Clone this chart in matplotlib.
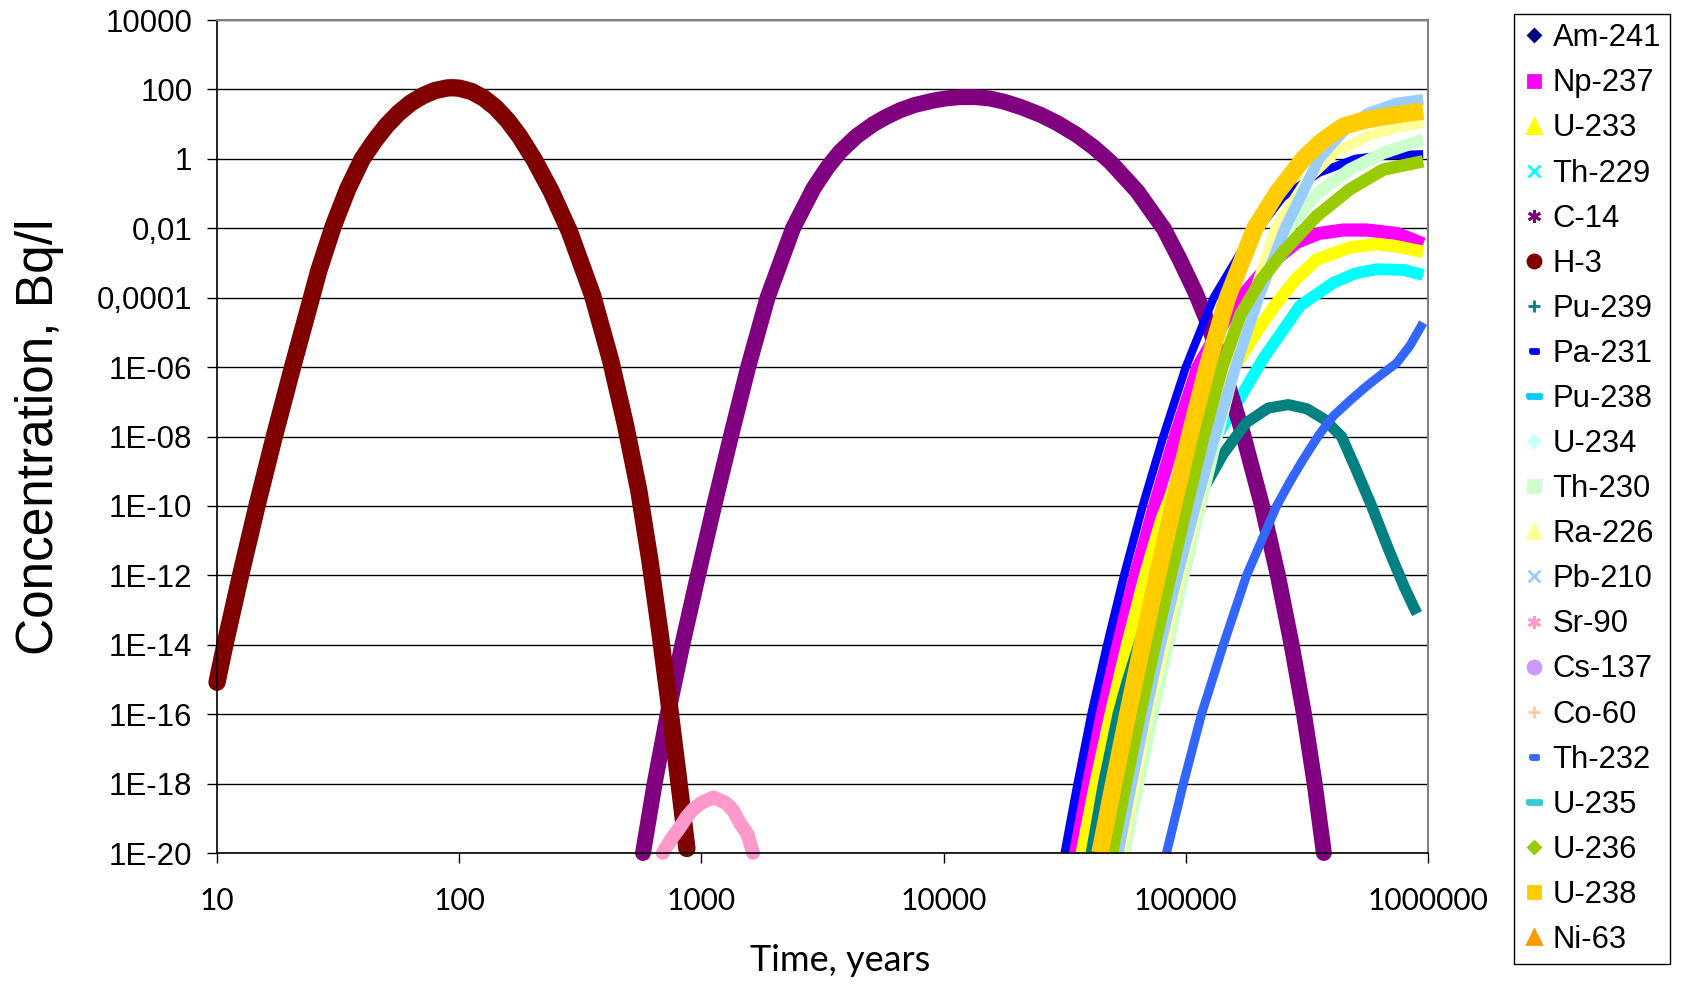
import matplotlib
matplotlib.use('Agg')
import matplotlib.pyplot as plt
from matplotlib.lines import Line2D

plt.rcParams['font.family'] = ['Liberation Sans', 'DejaVu Sans']

# ---- data: time (years), concentration (Bq/l) ----
h3_t = [10, 10.78, 12.51, 14.62, 17.24, 20.51, 24.55, 26.3, 30.2, 34.7, 39.8, 44.7,
        50.1, 56.2, 63.1, 70.8, 79.4, 89.1, 93.3, 100, 112.2, 125.9, 141.3, 158.5,
        177.8, 204.2, 239.9, 285.1, 354.8, 421.7, 485.3, 550.8, 612.4, 673, 736.2,
        803.5, 871]
h3_c = [8.3e-16, 1e-14, 1e-12, 1e-10, 1e-8, 1e-6, 1e-4, 5.9e-4, 0.0115, 0.138, 1, 3.3,
        9.1, 20.9, 40.7, 66, 93, 110, 112, 108.7, 87.7, 57.1, 30.1, 12.8,
        4.38, 0.935, 0.115, 8.1e-3, 1.2e-4, 1.58e-6, 2.24e-8, 2.9e-10, 2.75e-12, 2.45e-14,
        1.95e-16, 1.45e-18, 1.35e-20]

c14_t = [574, 641, 726, 834, 968, 1128, 1323, 1560, 1875, 2389, 2903, 3311, 3733,
         4365, 5129, 5754, 6607, 7586, 9099, 10230, 11720, 13490, 15490, 17780,
         20890, 25120, 29510, 35480, 41690, 48980, 63100, 81280, 94410, 109600, 123000,
         139600, 171800, 205600, 239900, 273500, 307600, 340400, 371500]
c14_c = [1e-20, 1e-18, 1e-16, 1e-14, 1e-12, 1e-10, 1e-8, 1e-6, 1e-4, 1e-2, 0.141, 0.562,
         1.585, 4.47, 10, 15.8, 25.1, 35.5, 47.9, 55, 60, 60, 55, 44.2,
         30.9, 18.6, 10.6, 4.9, 2.14, 0.794, 0.115, 9.5e-3, 1.26e-3, 1.41e-4, 2e-5,
         1.41e-6, 1.26e-8, 1.12e-10, 1e-12, 1e-14, 1e-16, 1e-18, 1e-20]

sr90_t = [692, 759, 817, 871, 923, 1000, 1122, 1259, 1352, 1445, 1549, 1633]
sr90_c = [1e-20, 2.8e-20, 5.6e-20, 1.12e-19, 1.8e-19, 2.8e-19, 4e-19, 2.8e-19,
          1.7e-19, 7.1e-20, 3.5e-20, 1e-20]

pa231_t = [31600, 35730, 40740, 47320, 55590, 66370, 80720, 100000, 130300,
           171800, 251200, 354800, 501200, 653100, 955000]
pa231_c = [1e-20, 1e-18, 1e-16, 1e-14, 1e-12, 1e-10, 1e-8, 1e-6, 1e-4,
           2.5e-3, 0.079, 0.4, 1.0, 1.26, 1.35]

np237_t = [34280, 38900, 44460, 52120, 61940, 74300, 90360, 112200, 154900,
           223900, 288400, 354800, 446700, 557200, 741300, 831800, 955000]
np237_c = [1e-20, 1e-18, 1e-16, 1e-14, 1e-12, 1e-10, 1e-8, 1e-6, 5e-5,
           1e-3, 4e-3, 7.1e-3, 8.9e-3, 8.9e-3, 7.1e-3, 5.2e-3, 3.5e-3]

u233_t = [37200, 42360, 48980, 57280, 67920, 79400, 100000, 125900, 158500,
          195000, 231700, 281800, 346700, 475300, 612400, 741300, 955000]
u233_c = [1e-20, 1e-18, 1e-16, 1e-14, 1e-12, 4e-11, 2.5e-9, 7.9e-8, 1e-6,
          1e-5, 5.6e-5, 3.2e-4, 1.26e-3, 2.8e-3, 3.5e-3, 3e-3, 2.1e-3]

th229_t = [41500, 50100, 63100, 79400, 100000, 125900, 167100, 208900, 295800,
           406400, 501200, 612400, 794300, 955000]
th229_c = [1e-20, 5e-18, 3.2e-15, 1e-12, 1e-10, 5e-9, 1.26e-7, 1.78e-6, 5.8e-5,
           2.7e-4, 5e-4, 6.6e-4, 6.3e-4, 4.5e-4]

pu239_t = [40700, 45700, 52500, 57000, 70800, 89100, 112200, 142900, 177800, 218800,
           264900, 316200, 371500, 439500, 501200, 584800, 691800, 794300, 871000, 901600]
pu239_c = [1e-20, 1e-18, 1e-16, 7.9e-16, 1e-13, 6.3e-12, 1.6e-10, 3.2e-9, 2.5e-8, 6.6e-8,
           8.3e-8, 6.3e-8, 3.2e-8, 1e-8, 1.26e-9, 1e-10, 5e-12, 5e-13, 1.26e-13, 7.9e-14]

th230_t = [55590, 63530, 72780, 83950, 97720, 114300, 134300, 158500, 190500,
           251200, 346700, 475300, 653100, 955000]
th230_c = [1e-20, 1e-18, 1e-16, 1e-14, 1e-12, 1e-10, 1e-8, 1e-6, 1e-4,
           6.3e-3, 0.1, 0.49, 1.48, 3.6]

ra226_t = [54300, 61700, 70000, 81660, 95060, 111700, 131800, 156700, 188400,
           234400, 316200, 416900, 562300, 741300, 955000]
ra226_c = [1e-20, 1e-18, 1e-16, 1e-14, 1e-12, 1e-10, 1e-8, 1e-6, 1e-4,
           1e-2, 0.25, 1.58, 4.5, 7.9, 11]

pb210_t = [52500, 59700, 68080, 78520, 92260, 109600, 131800, 160300, 199500,
           257000, 354800, 446700, 562300, 741300, 955000]
pb210_c = [1e-20, 1e-18, 1e-16, 1e-14, 1e-12, 1e-10, 1e-8, 1e-6, 1e-4,
           1e-2, 1, 6.3, 20, 40, 51]

th232_t = [83200, 97700, 116100, 142900, 178200, 237100, 269200, 305500, 354800,
           406400, 478600, 557200, 645700, 741300, 841400, 955000]
th232_c = [1e-20, 1e-18, 1e-16, 1e-14, 1e-12, 1e-10, 5e-10, 2.2e-9, 1.12e-8,
           3.9e-8, 1.12e-7, 2.8e-7, 6.3e-7, 1.3e-6, 4.1e-6, 1.9e-5]

u236_t = [49550, 56490, 64570, 74470, 86500, 100900, 118300, 141300, 167900,
          204200, 251200, 346700, 475300, 653100, 955000]
u236_c = [1e-20, 1e-18, 1e-16, 1e-14, 1e-12, 1e-10, 1e-8, 1e-6, 3.2e-5,
          3.2e-4, 2e-3, 0.0224, 0.132, 0.49, 0.85]

u238_t = [44200, 50350, 57540, 66070, 76380, 88720, 103500, 122500, 148600,
          192800, 237100, 305500, 363100, 446700, 537000, 653100, 794300, 955000]
u238_c = [1e-20, 1e-18, 1e-16, 1e-14, 1e-12, 1e-10, 1e-8, 1e-6, 1e-4,
          1e-2, 0.1, 1, 3.16, 8.7, 12.6, 16.2, 20, 23.7]

# nuclides that stay below the plotted range (legend only)
empty_t = []
empty_c = []

x_ticks = [10, 100, 1000, 10000, 100000, 1000000]
x_labels = ['10', '100', '1000', '10000', '100000', '1000000']
y_ticks = [1e4, 1e2, 1, 1e-2, 1e-4, 1e-6, 1e-8, 1e-10, 1e-12, 1e-14, 1e-16, 1e-18, 1e-20]
y_labels = ['10000', '100', '1', '0,01', '0,0001', '1E-06', '1E-08', '1E-10',
            '1E-12', '1E-14', '1E-16', '1E-18', '1E-20']

# marker shapes
ast = (6, 2, 0)
short_dash = [(-1, -0.5), (1, -0.5), (1, 0.5), (-1, 0.5), (-1, -0.5)]
long_dash = [(-1.7, -0.5), (1.7, -0.5), (1.7, 0.5), (-1.7, 0.5), (-1.7, -0.5)]

# name, t, c, color, marker, legend size, band width (pt)
series = [
    ('Am-241', empty_t, empty_c, '#000080', 'D', 6.6, 8),
    ('Np-237', np237_t, np237_c, '#FF00FF', 's', 8.8, 9.5),
    ('U-233', u233_t, u233_c, '#FFFF00', '^', 9.4, 9),
    ('Th-229', th229_t, th229_c, '#00FFFF', 'x', 8.4, 8.5),
    ('C-14', c14_t, c14_c, '#800080', ast, 9.4, 11.5),
    ('H-3', h3_t, h3_c, '#800000', 'o', 9.4, 12.5),
    ('Pu-239', pu239_t, pu239_c, '#008080', '+', 9.0, 8),
    ('Pa-231', pa231_t, pa231_c, '#0000FF', short_dash, 6.0, 6),
    ('Pu-238', empty_t, empty_c, '#00CCFF', long_dash, 10.0, 5),
    ('U-234', empty_t, empty_c, '#CCFFFF', 'D', 6.6, 7),
    ('Th-230', th230_t, th230_c, '#CCFFCC', 's', 8.8, 9),
    ('Ra-226', ra226_t, ra226_c, '#FFFF99', '^', 9.4, 7.5),
    ('Pb-210', pb210_t, pb210_c, '#99CCFF', 'x', 8.4, 8),
    ('Sr-90', sr90_t, sr90_c, '#FF99CC', ast, 9.4, 10),
    ('Cs-137', empty_t, empty_c, '#CC99FF', 'o', 9.4, 7),
    ('Co-60', empty_t, empty_c, '#FFCC99', '+', 9.0, 7),
    ('Th-232', th232_t, th232_c, '#3366FF', short_dash, 6.0, 6.5),
    ('U-235', empty_t, empty_c, '#33CCCC', long_dash, 10.0, 5),
    ('U-236', u236_t, u236_c, '#99CC00', 'D', 6.6, 9),
    ('U-238', u238_t, u238_c, '#FFCC00', 's', 8.8, 12.5),
    ('Ni-63', empty_t, empty_c, '#FF9900', '^', 9.4, 7),
]

fig = plt.figure(figsize=(16.83, 9.84), dpi=100)
ax = fig.add_axes([0.12894, 0.13313, 0.71955, 0.84654])
ax.set_xscale('log')
ax.set_yscale('log')
ax.set_xlim(10, 1000000)
ax.set_ylim(1e-20, 1e4)

handles = []
for name, t, c, col, mk, ms, lw in series:
    # round ends where the chart uses round-ish markers
    cap = 'round' if name in ('H-3', 'C-14', 'Sr-90') else 'butt'
    ax.plot(t, c, color=col, lw=lw, solid_capstyle=cap, solid_joinstyle='round',
            clip_on=False)
    handles.append(Line2D([], [], linestyle='none', marker=mk, ms=ms, mew=2,
                          mfc=col, mec=col))

for v in y_ticks:
    ax.axhline(v, color='black', lw=1.0, zorder=0)

ax.set_yticks(y_ticks)
ax.set_yticklabels(y_labels, fontsize=22.5)
ax.set_xticks(x_ticks)
ax.set_xticklabels(x_labels, fontsize=21.5, family='Lato')
ax.minorticks_off()
ax.tick_params(axis='y', direction='out', length=7, width=1, pad=10.8)
ax.tick_params(axis='x', direction='out', length=7, width=1, pad=17.4)

for side in ['left', 'bottom']:
    ax.spines[side].set_color('black')
    ax.spines[side].set_linewidth(1.2)
for side in ['top', 'right']:
    ax.spines[side].set_color('#808080')
    ax.spines[side].set_linewidth(1.5)

fig.text(0.0235, 0.5 * (0.13313 + 0.97967), 'Concentration, Bq/l', rotation=90,
         ha='center', va='center', fontsize=37)
fig.text(0.499, 0.0137, 'Time, years', ha='center', va='baseline',
         fontsize=26, family='Lato')

leg = fig.legend(handles, [s[0] for s in series], loc='upper left',
                 bbox_to_anchor=(0.8996, 0.9858), frameon=True, fancybox=False,
                 edgecolor='black', framealpha=1, fontsize=22.3,
                 labelspacing=0.487, handlelength=0.7, handletextpad=0.25,
                 borderpad=0.3, borderaxespad=0)
leg.get_frame().set_linewidth(1.0)

fig.savefig('out.png', dpi=100)
